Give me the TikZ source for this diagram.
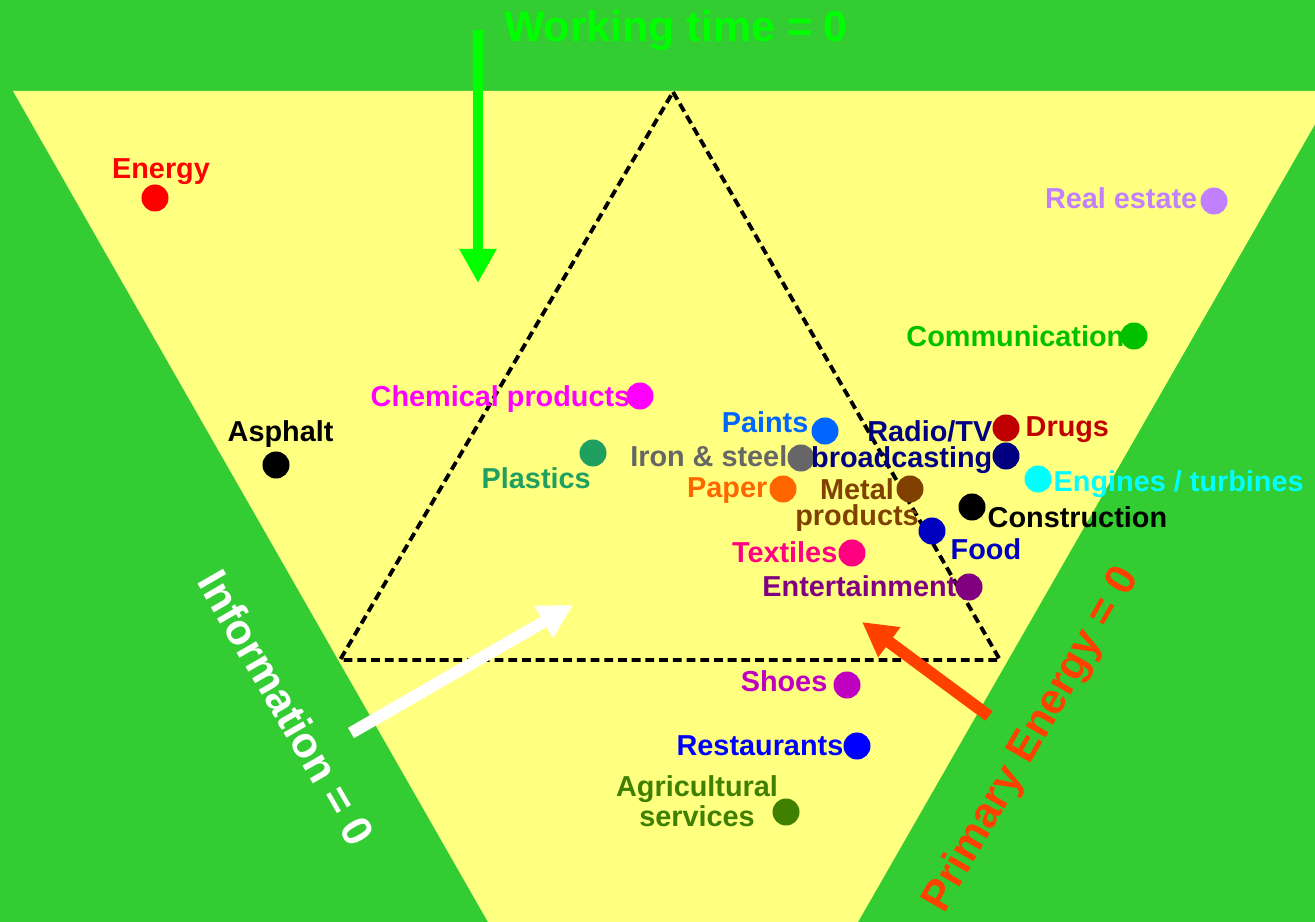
\documentclass[tikz,border=0pt]{standalone}
\usepackage{fontspec}
\setmainfont{Liberation Sans}
\usetikzlibrary{arrows.meta}

\definecolor{fieldgreen}{HTML}{33CC33}
\definecolor{paleyellow}{HTML}{FFFF80}
\definecolor{limegreen}{HTML}{00FF00}
\definecolor{flame}{HTML}{FF4000}
\definecolor{lilac}{HTML}{C080FF}
\definecolor{commgreen}{HTML}{00C000}
\definecolor{chemmagenta}{HTML}{FF00FF}
\definecolor{jade}{HTML}{20A060}
\definecolor{paintblue}{HTML}{0066FF}
\definecolor{steelgray}{HTML}{666666}
\definecolor{navyblue}{HTML}{000080}
\definecolor{drugred}{HTML}{C00000}
\definecolor{enginecyan}{HTML}{00FFFF}
\definecolor{paperorange}{HTML}{FF6600}
\definecolor{metalbrown}{HTML}{804000}
\definecolor{foodblue}{HTML}{0000C0}
\definecolor{textilepink}{HTML}{FF0080}
\definecolor{plum}{HTML}{800080}
\definecolor{shoemagenta}{HTML}{C000C0}
\definecolor{restblue}{HTML}{0000FF}
\definecolor{olivegreen}{HTML}{408000}

\begin{document}
\begin{tikzpicture}[
  x=0.01cm, y=-0.01cm,
  dot/.style      = {circle, inner sep=0pt, minimum size=0.27cm},
  lbl/.style      = {inner sep=0pt, font=\fontsize{8.2}{7.4}\selectfont\bfseries},
  biglbl/.style   = {inner sep=0pt, font=\fontsize{12.2}{14}\selectfont\bfseries},
  bigarrow/.style = {line width=3.4pt, -{Triangle[width=0.35cm, length=0.34cm]}},
  border/.style   = {black, line width=1.1pt, dash pattern=on 2.5pt off 1.4pt}
]
\useasboundingbox (0,0) rectangle (1315,922);

% ---- BACKGROUND ----
\fill[fieldgreen] (0,0) rectangle (1315,922);
\fill[paleyellow] (13,91) -- (1334,91) -- (858,922) -- (488,922) -- cycle;
\draw[border] (673,92) -- (1000,660) -- (340,660) -- cycle;

% ---- SECTORS ----
\node[dot, fill=red] (energy) at (155,198) {};
\node[lbl, text=red, anchor=base] (energy-lbl) at (161,179) {Energy};

\node[dot, fill=lilac] (realestate) at (1214,201) {};
\node[lbl, text=lilac, anchor=base east] (realestate-lbl) at (1198,209) {Real estate};

\node[dot, fill=commgreen] (comm) at (1134,336) {};
\node[lbl, text=commgreen, anchor=base east] (comm-lbl) at (1125,347) {Communication};

\node[dot, fill=chemmagenta] (chem) at (640,396) {};
\node[lbl, text=chemmagenta, anchor=base east] (chem-lbl) at (631,407) {Chemical products};

\node[dot, fill=black] (asphalt) at (276,465) {};
\node[lbl, text=black, anchor=base west] (asphalt-lbl) at (227,442) {Asphalt};

\node[dot, fill=jade] (plastics) at (593,453) {};
\node[lbl, text=jade, anchor=base west] (plastics-lbl) at (481,489) {Plastics};

\node[dot, fill=paintblue] (paints) at (825,431) {};
\node[lbl, text=paintblue, anchor=base east] (paints-lbl) at (809,433) {Paints};

\node[dot, fill=steelgray] (iron) at (801,458) {};
\node[lbl, text=steelgray, anchor=base east] (iron-lbl) at (788,467) {Iron \& steel};

\node[dot, fill=navyblue] (radio) at (1006,456) {};
\node[lbl, text=navyblue, align=right, anchor=base east] (radio-lbl) at (993,468) {Radio/TV\\broadcasting};

\node[dot, fill=drugred] (drugs) at (1006,428) {};
\node[lbl, text=drugred, anchor=base west] (drugs-lbl) at (1025,437) {Drugs};

\node[dot, fill=enginecyan] (engines) at (1038,479) {};
\node[lbl, text=enginecyan, anchor=base west] (engines-lbl) at (1053,492) {Engines / turbines};

\node[dot, fill=paperorange] (paper) at (783,489) {};
\node[lbl, text=paperorange, anchor=base east] (paper-lbl) at (768,498) {Paper};

\node[dot, fill=metalbrown] (metal) at (910,489) {};
\node[lbl, text=metalbrown, align=center, anchor=base] (metal-lbl) at (857,526) {Metal\\products};

\node[dot, fill=black] (constr) at (972,507) {};
\node[lbl, text=black, anchor=base west] (constr-lbl) at (987,528) {Construction};

\node[dot, fill=foodblue] (food) at (932,531) {};
\node[lbl, text=foodblue, anchor=base west] (food-lbl) at (950,560) {Food};

\node[dot, fill=textilepink] (textiles) at (852,553) {};
\node[lbl, text=textilepink, anchor=base east] (textiles-lbl) at (838,563) {Textiles};

\node[dot, fill=plum] (entertain) at (969,587) {};
\node[lbl, text=plum, anchor=base east] (entertain-lbl) at (957,597) {Entertainment};

\node[dot, fill=shoemagenta] (shoes) at (847,685) {};
\node[lbl, text=shoemagenta, anchor=base east] (shoes-lbl) at (828,692) {Shoes};

\node[dot, fill=restblue] (restaurants) at (857,746) {};
\node[lbl, text=restblue, anchor=base east] (restaurants-lbl) at (844,756) {Restaurants};

\node[dot, fill=olivegreen] (agri) at (786,812) {};
\node[lbl, text=olivegreen, align=center, anchor=base] (agri-lbl) at (697,827) {Agricultural\\services};

% ---- ARROWS ----
\coordinate (work-tail) at (478,30);
\coordinate (work-tip) at (478,283);
\draw[bigarrow, limegreen, line width=3.1pt] (work-tail) -- (work-tip);

\coordinate (info-tail) at (351,733);
\coordinate (info-tip) at (573,605);
\draw[bigarrow, white] (info-tail) -- (info-tip);

\coordinate (prim-tail) at (989,716);
\coordinate (prim-tip) at (862,622);
\draw[bigarrow, flame] (prim-tail) -- (prim-tip);

% ---- AXIS LABELS ----
\node[biglbl, text=limegreen, anchor=base] (work-lbl) at (676,42) {Working time = 0};
\node[biglbl, text=white, rotate=-60] (info-lbl) at (287,708) {Information = 0};
\node[biglbl, text=flame, rotate=60] (prim-lbl) at (1032,740) {Primary Energy = 0};

\end{tikzpicture}
\end{document}
